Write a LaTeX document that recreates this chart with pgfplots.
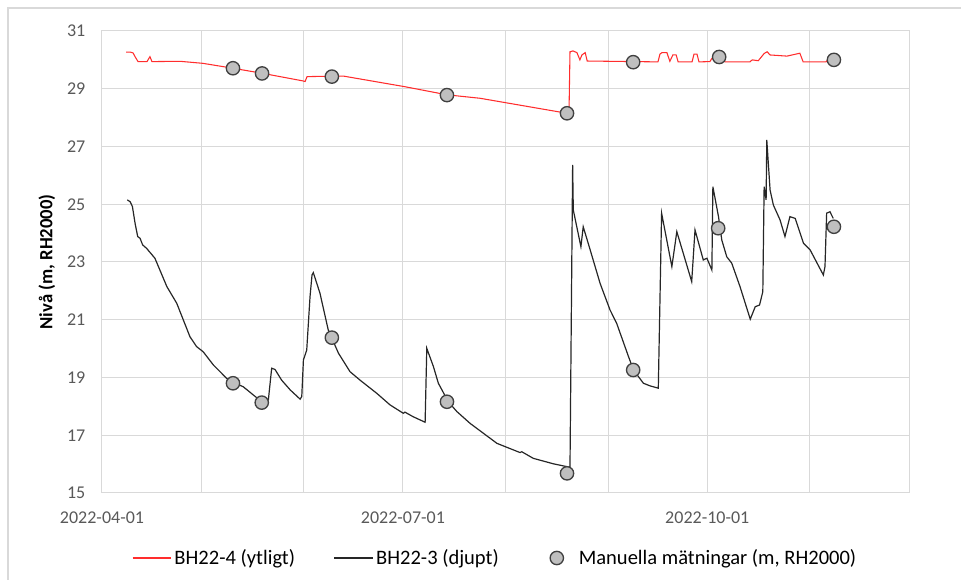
\documentclass[border=0pt]{standalone}
\usepackage{fontspec}
\setmainfont{Carlito}
\usepackage{pgfplots}
\usepackage{pgfplotstable}
\pgfplotsset{compat=1.18}

\definecolor{gridgray}{RGB}{217,217,217}
\definecolor{ticktext}{RGB}{89,89,89}
\definecolor{bhred}{RGB}{255,45,45}
\definecolor{bhblack}{RGB}{38,38,38}
\definecolor{markfill}{RGB}{191,191,191}
\definecolor{markdraw}{RGB}{64,64,64}

\pgfplotsset{
    linelegend/.style={legend image code/.code={\path[draw=none,fill=none] (0pt,0pt) (29pt,0pt); \draw[##1] (0pt,0pt) -- (29pt,0pt);}},
    marklegend/.style={legend image code/.code={\path[draw=none,fill=none] (0pt,0pt) (29pt,0pt); \draw[mark repeat=2,mark phase=2,##1] plot coordinates {(0pt,0pt)(14.5pt,0pt)(29pt,0pt)};}},
}

% x = days after 2022-04-01, y = level (m, RH2000)
\pgfplotstableread{
d v
7.3 30.27
8.5 30.27
9.4 30.24
10.0 30.11
10.9 29.94
13.6 29.94
14.5 30.11
15.1 29.94
23.6 29.95
30.5 29.88
39.6 29.71
48.7 29.53
60.8 29.27
61.4 29.25
62.0 29.42
72.9 29.44
91.6 29.07
104.3 28.79
114.3 28.67
140.6 28.15
141.2 28.15
141.5 30.28
142.4 30.31
143.6 30.25
144.5 30.00
145.1 30.17
146.1 30.25
146.7 29.96
168.1 29.93
168.7 30.20
169.3 30.25
170.8 30.25
171.7 29.95
172.6 30.17
173.6 30.17
174.2 29.93
178.4 29.93
179.0 30.20
179.9 30.20
180.5 29.93
183.8 29.94
184.4 30.05
186.6 30.10
188.4 29.93
195.9 29.93
196.6 30.00
198.4 29.97
199.0 30.05
200.2 30.22
201.1 30.28
202.0 30.17
207.1 30.13
211.0 30.23
212.0 29.93
218.9 29.93
219.8 30.05
220.7 30.05
}\ytligt

\pgfplotstableread{
d v
7.65 25.15
8.5 25.09
9.2 24.92
10.0 24.34
10.8 23.88
11.5 23.82
12.3 23.59
13.5 23.47
16.0 23.13
19.6 22.15
22.6 21.57
26.6 20.41
28.6 20.07
30.6 19.89
33.7 19.43
37.7 18.97
39.7 18.83
42.7 18.68
45.8 18.39
48.3 18.16
50.3 18.22
51.3 19.32
52.3 19.28
54.3 18.91
56.9 18.57
59.9 18.25
60.4 18.34
60.9 19.61
61.9 19.95
62.9 21.80
63.5 22.55
63.9 22.63
65.9 21.92
68.4 20.65
69.5 20.36
71.5 19.84
75.0 19.20
78.0 18.91
83.1 18.45
87.1 18.05
91.1 17.76
91.6 17.80
94.1 17.64
97.7 17.45
98.2 20.01
100.2 19.38
101.7 18.80
104.7 18.16
107.3 17.82
111.3 17.41
115.3 17.07
119.4 16.72
126.4 16.40
126.9 16.43
130.4 16.20
136.5 16.01
141.5 15.89
142.3 26.36
142.5 24.80
144.8 23.53
145.5 24.22
147.6 23.42
150.6 22.26
153.6 21.34
155.6 20.88
159.2 19.72
160.7 19.26
163.7 18.80
165.7 18.71
168.2 18.63
169.2 24.69
172.3 22.84
173.8 24.05
178.3 22.32
179.3 24.11
181.8 23.07
182.9 23.13
184.4 22.72
184.7 25.61
186.4 24.57
187.4 23.76
188.9 23.18
190.4 22.96
192.9 22.15
196.0 21.02
197.5 21.45
198.8 21.51
199.8 21.97
200.2 25.61
200.8 25.15
201.0 27.23
202.0 25.49
203.0 24.97
205.0 24.46
206.5 23.88
208.0 24.57
209.6 24.51
212.1 23.65
214.1 23.42
218.1 22.55
218.6 22.84
219.1 24.69
220.1 24.74
221.1 24.51
}\djupt

\pgfplotstableread{
d v
39.6 29.71
48.4 29.53
69.5 29.42
104.3 28.78
140.6 28.15
160.6 29.92
186.6 30.10
221.3 30.00
39.6 18.80
48.3 18.13
69.5 20.38
104.3 18.16
140.6 15.68
160.6 19.26
186.3 24.17
221.3 24.22
}\manuella

\begin{document}
\begin{tikzpicture}
\useasboundingbox (-76.5pt,-65.25pt) rectangle (644.25pt,369.75pt);
\draw[gridgray, line width=0.9pt] (-70.5pt,-66pt) -- (-70.5pt,363.75pt) -- (645pt,363.75pt);
\begin{axis}[
    at={(0pt,0pt)}, anchor=south west,
    scale only axis,
    width=605.25pt,
    height=346.5pt,
    xmin=0, xmax=244,
    ymin=15, ymax=31,
    xtick={0,91,183},
    xticklabels={2022-04-01,2022-07-01,2022-10-01},
    minor xtick={30,61,122,153,214,244},
    ytick={15,17,...,31},
    grid=both,
    major grid style={gridgray, line width=0.75pt},
    minor grid style={gridgray, line width=0.75pt},
    axis line style={gridgray, line width=0.75pt},
    major tick length=0pt, minor tick length=0pt,
    tick label style={font=\fontsize{13.5}{16}\selectfont, text=ticktext},
    /pgf/number format/assume math mode=true,
    xticklabel style={yshift=-10.5pt},
    yticklabel style={xshift=-9pt},
    ylabel={\bfseries Nivå (m, RH2000)},
    every axis y label/.style={at={(axis description cs:-0.0682,0.5)}, anchor=center, rotate=90,
        font=\fontsize{14}{16}\selectfont},
    legend columns=3,
    legend style={draw=none, fill=none, at={(0.5,0)}, anchor=center,
        xshift=-7.5pt, yshift=-48.75pt,
        font=\fontsize{15.4}{18}\selectfont,
        nodes={inner sep=2pt},
        /tikz/every even column/.append style={column sep=27pt}},
    legend cell align=left,
]
\addplot[bhred, line width=0.8pt, linelegend]
    table[x=d, y=v] {\ytligt};
\addlegendentry{BH22-4 (ytligt)}
\addplot[bhblack, line width=0.9pt, linelegend]
    table[x=d, y=v] {\djupt};
\addlegendentry{BH22-3 (djupt)}
\addplot[only marks, mark=*, mark size=5pt,
    mark options={fill=markfill, draw=markdraw, line width=1pt}, marklegend]
    table[x=d, y=v] {\manuella};
\addlegendentry{Manuella mätningar (m, RH2000)}
\end{axis}
\end{tikzpicture}
\end{document}
